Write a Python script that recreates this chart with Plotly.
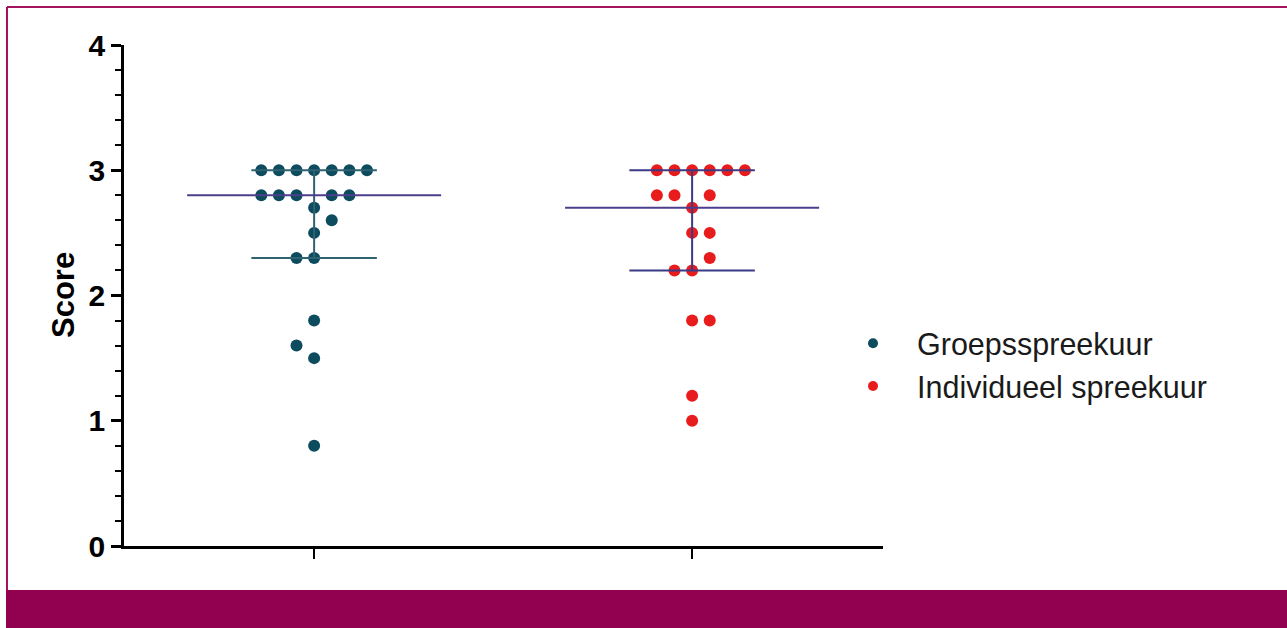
import numpy as np
import plotly.graph_objects as go

W, H = 1287, 628

# ---- data ----
groups = ["Groepsspreekuur", "Individueel spreekuur"]
groep_scores = [3.0, 3.0, 3.0, 3.0, 3.0, 3.0, 3.0,
                2.8, 2.8, 2.8, 2.8, 2.8,
                2.7, 2.6, 2.5, 2.3, 2.3, 1.8, 1.6, 1.5, 0.8]
indiv_scores = [3.0, 3.0, 3.0, 3.0, 3.0, 3.0,
                2.8, 2.8, 2.8,
                2.7, 2.5, 2.5, 2.3, 2.2, 2.2, 1.8, 1.8, 1.2, 1.0]
# scatter-column slot of each dot (dot-plot arrangement)
groep_slot = [-3, -2, -1, 0, 1, 2, 3,
              -3, -2, -1, 1, 2,
              0, 1, 0, -1, 0, 0, -1, 0, 0]
indiv_slot = [-2, -1, 0, 1, 2, 3,
              -2, -1, 1,
              0, 0, 1, 1, -1, 0, 0, 1, 0, 0]
yticks = [0, 1, 2, 3, 4]

dot_colors = ["#0d4b5e", "#e81c1c"]
iqr_colors = ["#2f6272", "#3a3a86"]
median_color = "#4b3f8c"
slot_w = 0.0466
med_half = 0.336
iqr_half = 0.166

fig = go.Figure()
series = [groep_scores, indiv_scores]
slots = [groep_slot, indiv_slot]
for i, (vals, sl) in enumerate(zip(series, slots)):
    xs = [i + s * slot_w for s in sl]
    fig.add_trace(go.Scatter(x=xs, y=vals, mode="markers",
                             marker=dict(size=12, color=dot_colors[i]),
                             showlegend=False, hoverinfo="y"))
for i, vals in enumerate(series):
    arr = np.array(vals)
    med = float(np.median(arr))
    q1, q3 = [float(v) for v in np.percentile(arr, [25, 75])]
    lc = iqr_colors[i]
    fig.add_trace(go.Scatter(x=[i, i], y=[q1, q3], mode="lines",
                             line=dict(color=lc, width=2), showlegend=False, hoverinfo="skip"))
    for q in (q1, q3):
        fig.add_trace(go.Scatter(x=[i - iqr_half, i + iqr_half], y=[q, q], mode="lines",
                                 line=dict(color=lc, width=2), showlegend=False, hoverinfo="skip"))
    fig.add_trace(go.Scatter(x=[i - med_half, i + med_half], y=[med, med], mode="lines",
                             line=dict(color=median_color, width=2), showlegend=False, hoverinfo="skip"))

# legend entries
for i, name in enumerate(groups):
    fig.add_trace(go.Scatter(x=[None], y=[None], mode="markers", name=name,
                             legendgroup=name,
                             marker=dict(size=10, color=dot_colors[i])))

def py(p):
    return 1 - p / H

def px(p):
    return p / W

fig.update_layout(
    width=W, height=H, template="none",
    margin=dict(l=0, r=0, t=0, b=0),
    paper_bgcolor="white", plot_bgcolor="white",
    showlegend=True,
    legend=dict(x=px(829), y=py(317), xanchor="left", yanchor="top",
                font=dict(family="Liberation Sans, Arial", size=30.5, color="#1a1a1a"),
                traceorder="grouped", tracegroupgap=0, itemwidth=78,
                bgcolor="rgba(0,0,0,0)"),
    xaxis=dict(domain=[px(124), px(883)], range=[-0.503, 1.505],
               showgrid=False, zeroline=False, showline=True, linecolor="black", linewidth=2.5,
               tickvals=[0, 1], ticks="outside", ticklen=10, tickwidth=2, tickcolor="black",
               showticklabels=False, automargin=False),
    yaxis=dict(domain=[py(546), py(45)], range=[0, 4],
               showgrid=False, zeroline=False, showline=True, linecolor="black", linewidth=2.5,
               tickvals=yticks, ticktext=[str(t) for t in yticks],
               ticks="outside", ticklen=10, tickwidth=2.5, tickcolor="black",
               minor=dict(dtick=0.2, ticks="outside", ticklen=6, tickwidth=2, tickcolor="black"),
               tickfont=dict(family="Liberation Sans, Arial", size=30, color="black", weight="bold"),
               automargin=False),
    annotations=[dict(text="Score", x=px(63), y=py(295), xref="paper", yref="paper",
                      showarrow=False, textangle=-90, xanchor="center", yanchor="middle",
                      font=dict(family="Liberation Sans, Arial", size=31, color="black", weight="bold"))],
    shapes=[
        dict(type="line", xref="paper", yref="paper", x0=px(7), x1=1, y0=py(7), y1=py(7),
             line=dict(color="#a3145f", width=2)),
        dict(type="line", xref="paper", yref="paper", x0=px(7), x1=px(7), y0=py(7), y1=py(590),
             line=dict(color="#a3145f", width=2)),
        dict(type="rect", xref="paper", yref="paper", x0=px(6), x1=1, y0=0, y1=py(590),
             line=dict(width=0), fillcolor="#920050"),
    ],
)

fig.write_html("out.html")
